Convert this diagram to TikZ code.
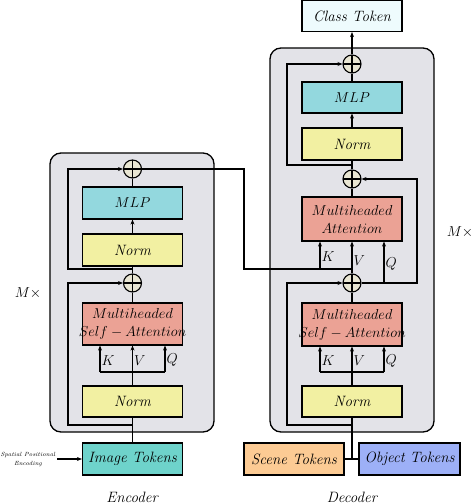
\documentclass[tikz,border=0pt]{standalone}
\usetikzlibrary{arrows.meta}
\definecolor{bggray}{HTML}{E3E3E8}
\definecolor{mlpc}{HTML}{93D8DE}
\definecolor{normc}{HTML}{F2F0A2}
\definecolor{attc}{HTML}{EBA295}
\definecolor{imgc}{HTML}{6ED3CB}
\definecolor{clsc}{HTML}{EEFBFD}
\definecolor{scnc}{HTML}{FCCB94}
\definecolor{objc}{HTML}{9DB0F7}
\definecolor{plusc}{HTML}{E9E6D3}
\newcommand{\saline}{\makebox[96pt]{\fontsize{14}{17}\selectfont$Self-Attention$}}
\tikzset{
  x=1pt,y=-1pt,
  container/.style={draw,line width=1.3pt,fill=bggray,rounded corners=11pt},
  blk/.style={draw,line width=1.2pt,minimum width=100pt,minimum height=32pt,inner sep=0pt,align=center,font=\fontsize{15}{18}\selectfont\itshape},
  pl/.style={circle,draw,line width=1.1pt,fill=plusc,minimum size=18pt,inner sep=0pt,
    path picture={\draw[line width=1.1pt] (path picture bounding box.north) -- (path picture bounding box.south) (path picture bounding box.west) -- (path picture bounding box.east);}},
  con/.style={line width=1.2pt},
  arr/.style={line width=1.2pt,-{Stealth[length=5pt,width=4pt]}},
  lbl/.style={font=\fontsize{14}{16}\selectfont,inner sep=1pt},
}
\begin{document}
\begin{tikzpicture}
\useasboundingbox (0,0) rectangle (474,504);
% containers
\node[container,minimum width=164pt,minimum height=279pt] (encbg) at (132,292.5) {};
\node[container,minimum width=164pt,minimum height=384pt] (decbg) at (352,240) {};
% encoder blocks
\node[blk,fill=imgc] (eImg) at (132.5,459) {Image Tokens};
\node[blk,fill=normc,minimum height=31pt] (eNormA) at (132.5,401.5) {Norm};
\node[blk,fill=attc,minimum height=42pt] (eAtt) at (132.5,324) {$Multiheaded$\\\saline};
\node[pl] (ePlusA) at (132.5,283) {};
\node[blk,fill=normc] (eNormB) at (132.5,250) {Norm};
\node[blk,fill=mlpc] (eMLP) at (132.5,203) {$MLP$};
\node[pl] (ePlusB) at (132.5,169) {};
% decoder blocks
\node[blk,fill=scnc] (dScene) at (294,459) {Scene Tokens};
\node[blk,fill=objc,minimum width=101pt] (dObj) at (409.5,459) {Object Tokens};
\node[blk,fill=normc,minimum height=31pt] (dNormA) at (352,401.5) {Norm};
\node[blk,fill=attc,minimum height=43pt] (dSAtt) at (352,324.5) {$Multiheaded$\\\saline};
\node[pl] (dPlusA) at (352,283) {};
\node[blk,fill=attc,minimum height=44pt] (dAtt) at (352,219) {$Multiheaded$\\$Attention$};
\node[pl] (dPlusB) at (352,179) {};
\node[blk,fill=normc] (dNormB) at (352,144) {Norm};
\node[blk,fill=mlpc,minimum height=31pt] (dMLP) at (352,97.5) {$MLP$};
\node[pl] (dPlusC) at (352,64) {};
\node[blk,fill=clsc,minimum height=31pt] (dCls) at (352,16) {Class Token};
% labels
\node[lbl] (mEnc) at (28,293) {$M\times$};
\node[lbl] (mDec) at (460,232) {$M\times$};
\node[lbl,font=\fontsize{15}{16}\selectfont] (tEnc) at (132,497) {\itshape Encoder};
\node[lbl,font=\fontsize{15}{16}\selectfont] (tDec) at (352,497) {\itshape Decoder};
\node[font=\fontsize{6}{8}\selectfont\itshape,align=center,inner sep=0pt] (spe) at (28,459.5) {Spatial Positional\\[1pt]Encoding};
\coordinate (speR) at (57,459);
\draw[arr] (speR) -- (eImg.west);
% encoder connections
\draw[con] (eImg.north) -- (eNormA.south);
\coordinate (eKVQ) at (132.5,372);
\coordinate (eK) at (100,372);
\coordinate (eQ) at (165,372);
\draw[con] (eNormA.north) -- (eKVQ);
\draw[con] (eK) -- (eQ);
\draw[arr] (eK) -- (eK |- eAtt.south) node[pos=0.45,right,lbl] {$K$};
\draw[arr] (eKVQ) -- (eAtt.south) node[pos=0.45,right,lbl] {$V$};
\draw[arr] (eQ) -- (eQ |- eAtt.south) node[pos=0.45,right,lbl] {$Q$};
\draw[con] (eAtt.north) -- (ePlusA.south);
\draw[con] (ePlusA.north) -- (eNormB.south);
\draw[arr] (eNormB.north) -- (eMLP.south);
\draw[con] (eMLP.north) -- (ePlusB.south);
\coordinate (eResA) at (132.5,425);
\draw[arr] (eResA) -| (68,283) -- (ePlusA.west);
\coordinate (eResB) at (132.5,269);
\draw[arr] (eResB) -| (68,169) -- (ePlusB.west);
% encoder output to decoder cross-attention
\coordinate (dKV) at (352,269);
\coordinate (dK) at (320,269);
\draw[con] (ePlusB.east) -| (244,269) -- (dKV);
\draw[arr] (dK) -- (dK |- dAtt.south) node[pos=0.45,right,lbl] {$K$};
\draw[arr] (dPlusA.north) -- (dAtt.south) node[pos=0.4,right,lbl] {$V$};
\coordinate (dQ) at (384,283);
\draw[arr] (dQ) -- (dQ |- dAtt.south) node[pos=0.45,right,lbl] {$Q$};
\draw[arr] (dPlusA.east) -| (417,179) -- (dPlusB.east);
% decoder connections
\coordinate (dJoin) at (352,459);
\draw[con] (dNormA.south) -- (dJoin);
\draw[con] (dScene.east) -- (dObj.west);
\coordinate (dKVQ) at (352,372);
\coordinate (dKs) at (320,372);
\coordinate (dQs) at (384,372);
\draw[con] (dNormA.north) -- (dKVQ);
\draw[con] (dKs) -- (dQs);
\draw[arr] (dKs) -- (dKs |- dSAtt.south) node[pos=0.45,right,lbl] {$K$};
\draw[arr] (dKVQ) -- (dSAtt.south) node[pos=0.45,right,lbl] {$V$};
\draw[arr] (dQs) -- (dQs |- dSAtt.south) node[pos=0.45,right,lbl] {$Q$};
\draw[con] (dSAtt.north) -- (dPlusA.south);
\coordinate (dResA) at (352,425);
\draw[arr] (dResA) -| (287,283) -- (dPlusA.west);
\draw[con] (dAtt.north) -- (dPlusB.south);
\draw[con] (dPlusB.north) -- (dNormB.south);
\draw[arr] (dNormB.north) -- (dMLP.south);
\draw[con] (dMLP.north) -- (dPlusC.south);
\coordinate (dResB) at (352,165);
\draw[arr] (dResB) -| (287,64) -- (dPlusC.west);
\draw[arr] (dPlusC.north) -- (dCls.south);
\end{tikzpicture}
\end{document}
